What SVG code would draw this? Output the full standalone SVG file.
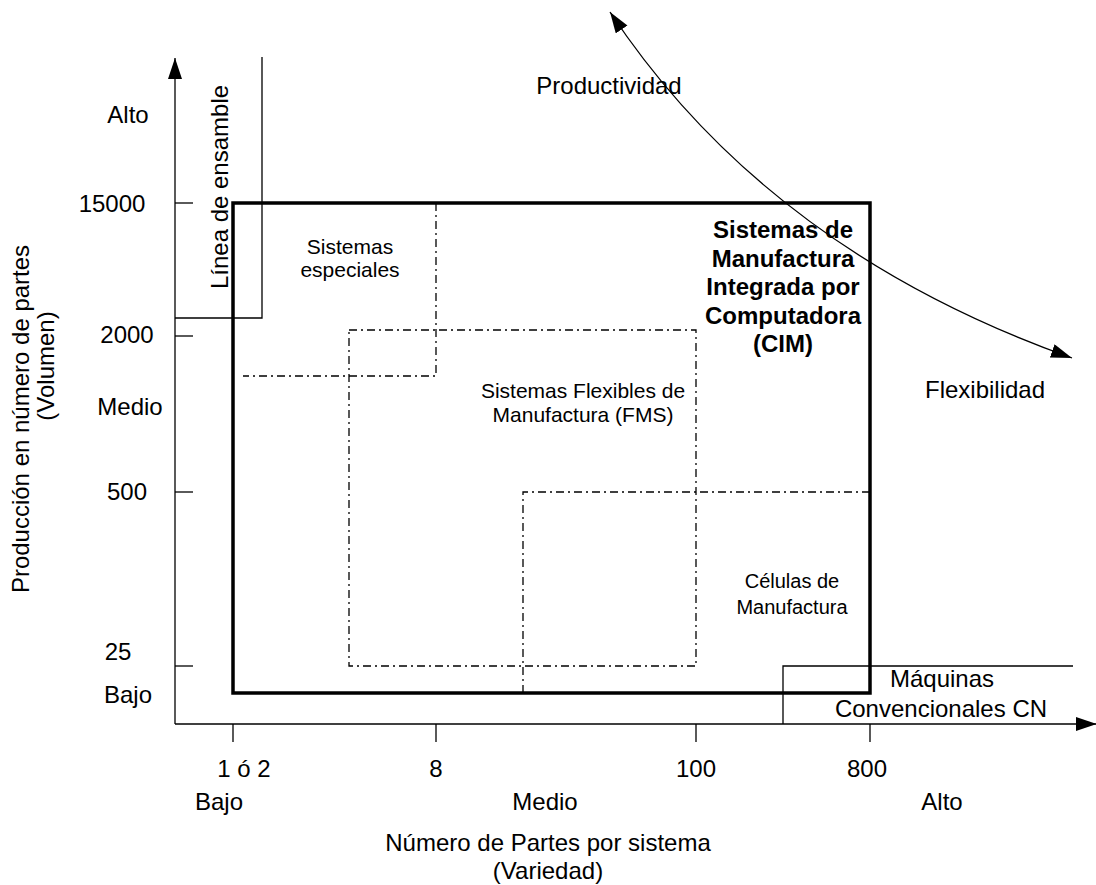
<svg xmlns="http://www.w3.org/2000/svg" width="1096" height="885" viewBox="0 0 1096 885">
  <style>
    text { font-family: "Liberation Sans", Arial, sans-serif; fill: #000; }
    .lbl { font-size: 24px; }
    .sm { font-size: 21px; }
    .bold { font-size: 24px; font-weight: bold; }
    .thin { stroke: #000; stroke-width: 1.3; fill: none; }
    .thick { stroke: #000; stroke-width: 3.5; fill: none; }
    .dd { stroke: #000; stroke-width: 1.3; fill: none; stroke-dasharray: 8 4 2 4; }
  </style>
  <defs>
    <marker id="head" markerUnits="userSpaceOnUse" markerWidth="23" markerHeight="16" refX="21" refY="7" orient="auto-start-reverse">
      <path d="M0,0 L21,7 L0,14 z" fill="#000"/>
    </marker>
  </defs>

  <!-- axes and ticks -->
  <g id="axes">
    <line class="thin" x1="175" y1="724" x2="175" y2="58" marker-end="url(#head)"/>
    <line class="thin" x1="175" y1="724" x2="1097" y2="724" marker-end="url(#head)"/>
    <line class="thin" x1="175" y1="203" x2="193" y2="203"/>
    <line class="thin" x1="175" y1="336" x2="193" y2="336"/>
    <line class="thin" x1="175" y1="492" x2="193" y2="492"/>
    <line class="thin" x1="175" y1="666" x2="193" y2="666"/>
    <line class="thin" x1="233" y1="724" x2="233" y2="742"/>
    <line class="thin" x1="436" y1="724" x2="436" y2="742"/>
    <line class="thin" x1="696" y1="724" x2="696" y2="742"/>
    <line class="thin" x1="870" y1="724" x2="870" y2="742"/>
  </g>

  <g id="y-labels" class="lbl" text-anchor="middle">
    <text x="128" y="123">Alto</text>
    <text x="112" y="212">15000</text>
    <text x="127" y="343">2000</text>
    <text x="130" y="415">Medio</text>
    <text x="127" y="500">500</text>
    <text x="118" y="660">25</text>
    <text x="128" y="703">Bajo</text>
  </g>
  <g id="y-title" class="lbl" text-anchor="middle">
    <text transform="translate(29,419) rotate(-90)">Producción en número de partes</text>
    <text transform="translate(54,366) rotate(-90)">(Volumen)</text>
  </g>

  <g id="x-labels" class="lbl" text-anchor="middle">
    <text x="244" y="777">1 ó 2</text>
    <text x="436" y="777">8</text>
    <text x="696" y="777">100</text>
    <text x="867" y="777">800</text>
    <text x="219" y="810">Bajo</text>
    <text x="545" y="810">Medio</text>
    <text x="942" y="810">Alto</text>
    <text x="548" y="851">Número de Partes por sistema</text>
    <text x="548" y="879">(Variedad)</text>
  </g>

  <!-- assembly line region -->
  <g id="linea-ensamble">
    <polyline class="thin" points="262,57 262,318 175,318"/>
    <text class="lbl" text-anchor="middle" transform="translate(228,187) rotate(-90)">Línea de ensamble</text>
  </g>

  <!-- CIM frame -->
  <g id="cim">
    <rect class="thick" x="233" y="203" width="637" height="490"/>
    <g class="bold" text-anchor="middle">
      <text x="783" y="238">Sistemas de</text>
      <text x="783" y="267">Manufactura</text>
      <text x="783" y="295">Integrada por</text>
      <text x="783" y="324">Computadora</text>
      <text x="783" y="352">(CIM)</text>
    </g>
  </g>

  <g id="sistemas-especiales">
    <polyline class="dd" points="436,203 436,376 243,376"/>
    <g class="sm" text-anchor="middle">
      <text x="350" y="254">Sistemas</text>
      <text x="350" y="277">especiales</text>
    </g>
  </g>

  <g id="fms">
    <rect class="dd" x="349" y="330" width="347" height="336"/>
    <g class="sm" text-anchor="middle">
      <text x="583" y="398">Sistemas Flexibles de</text>
      <text x="583" y="422">Manufactura (FMS)</text>
    </g>
  </g>

  <g id="celulas">
    <polyline class="dd" points="523,693 523,492 870,492"/>
    <g class="sm" text-anchor="middle" style="font-size:20px">
      <text x="792" y="588">Células de</text>
      <text x="792" y="614">Manufactura</text>
    </g>
  </g>

  <g id="maquinas-cn">
    <polyline class="thin" points="783,724 783,666 1073,666"/>
    <g class="lbl" text-anchor="middle">
      <text x="942" y="687">Máquinas</text>
      <text x="941" y="717">Convencionales CN</text>
    </g>
  </g>

  <!-- productivity / flexibility trade-off -->
  <g id="connectors">
    <path class="thin" d="M610,12 Q768,250 1072,358" marker-start="url(#head)" marker-end="url(#head)"/>
  </g>
  <g id="tradeoff-labels" class="lbl" text-anchor="middle">
    <text x="609" y="94">Productividad</text>
    <text x="985" y="398">Flexibilidad</text>
  </g>
</svg>
